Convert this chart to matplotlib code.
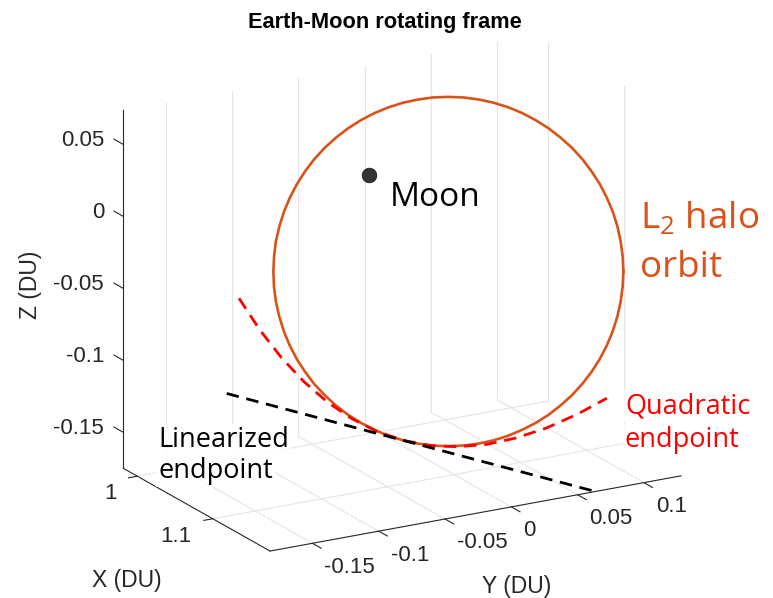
import matplotlib
matplotlib.use("Agg")
import numpy as np
import matplotlib.pyplot as plt
from mpl_toolkits.mplot3d import proj3d

W, H = 773, 598

# axis limits (DU), MATLAB "axis tight" box
x_lim = (0.9814, 1.176)
y_lim = (-0.182, 0.128)
z_lim = (-0.175, 0.0736)

x_ticks = [1.0, 1.1]
y_ticks = [-0.15, -0.1, -0.05, 0.0, 0.05, 0.1]
z_ticks = [-0.15, -0.1, -0.05, 0.0, 0.05]
x_ticklabels = ['1', '1.1']
y_ticklabels = ['-0.15', '-0.1', '-0.05', '0', '0.05', '0.1']
z_ticklabels = ['-0.15', '-0.1', '-0.05', '0', '0.05']

# Moon position
moon_x, moon_y, moon_z = 0.98785, 0.0, 0.0

# L2 halo orbit
orbit_x = [1.1104, 1.1076, 1.1047, 1.1018, 1.0989, 1.0961, 1.0933, 1.0906, 1.0881, 1.0856,
           1.0833, 1.0812, 1.0792, 1.0774, 1.0759, 1.0745, 1.0734, 1.0725, 1.0719, 1.0715,
           1.0713, 1.0714, 1.0718, 1.0724, 1.0732, 1.0743, 1.0757, 1.0772, 1.0789, 1.0809,
           1.0830, 1.0853, 1.0877, 1.0903, 1.0929, 1.0957, 1.0985, 1.1014, 1.1042, 1.1071,
           1.1100, 1.1128, 1.1156, 1.1183, 1.1208, 1.1233, 1.1256, 1.1277, 1.1297, 1.1315,
           1.1330, 1.1344, 1.1355, 1.1364, 1.1370, 1.1374, 1.1376, 1.1375, 1.1371, 1.1365,
           1.1357, 1.1346, 1.1332, 1.1317, 1.1300, 1.1280, 1.1259, 1.1236, 1.1212, 1.1186,
           1.1160, 1.1132]
orbit_y = [0.1218, 0.1229, 0.1230, 0.1222, 0.1204, 0.1175, 0.1138, 0.1091, 0.1036, 0.0972,
           0.0900, 0.0821, 0.0735, 0.0643, 0.0546, 0.0444, 0.0338, 0.0228, 0.0117, 0.0004,
           -0.0109, -0.0222, -0.0334, -0.0444, -0.0551, -0.0654, -0.0753, -0.0847, -0.0934, -0.1015,
           -0.1089, -0.1155, -0.1213, -0.1262, -0.1303, -0.1333, -0.1354, -0.1366, -0.1367, -0.1358,
           -0.1340, -0.1312, -0.1275, -0.1228, -0.1173, -0.1109, -0.1037, -0.0958, -0.0872, -0.0780,
           -0.0682, -0.0580, -0.0474, -0.0365, -0.0254, -0.0141, -0.0028, 0.0086, 0.0197, 0.0307,
           0.0414, 0.0518, 0.0616, 0.0710, 0.0798, 0.0879, 0.0953, 0.1019, 0.1077, 0.1126,
           0.1166, 0.1197]
orbit_z = [-0.0514, -0.0418, -0.0322, -0.0226, -0.0130, -0.0036, 0.0056, 0.0145, 0.0231, 0.0313,
           0.0389, 0.0461, 0.0526, 0.0586, 0.0638, 0.0683, 0.0720, 0.0750, 0.0771, 0.0785,
           0.0789, 0.0786, 0.0774, 0.0754, 0.0725, 0.0689, 0.0645, 0.0594, 0.0536, 0.0471,
           0.0400, 0.0324, 0.0243, 0.0158, 0.0070, -0.0022, -0.0116, -0.0212, -0.0308, -0.0404,
           -0.0500, -0.0594, -0.0686, -0.0775, -0.0861, -0.0942, -0.1019, -0.1091, -0.1156, -0.1215,
           -0.1268, -0.1313, -0.1350, -0.1380, -0.1401, -0.1414, -0.1419, -0.1416, -0.1404, -0.1383,
           -0.1355, -0.1319, -0.1275, -0.1224, -0.1165, -0.1101, -0.1030, -0.0954, -0.0873, -0.0788,
           -0.0699, -0.0608]

# linearized (straight) extrapolation
lin_x = [1.1196, 1.1505]
lin_y = [-0.1826, 0.0777]
lin_z = [-0.0821, -0.1849]

# quadratic extrapolation
quad_x = [1.1023, 1.1089, 1.1148, 1.1201, 1.1247, 1.1286, 1.1318, 1.1344,
          1.1363, 1.1375, 1.1380, 1.1378, 1.1370, 1.1355, 1.1335]
quad_y = [-0.1635, -0.1515, -0.1385, -0.1245, -0.1094, -0.0933, -0.0762, -0.0580,
          -0.0388, -0.0186, 0.0027, 0.0250, 0.0483, 0.0727, 0.0962]
quad_z = [-0.0243, -0.0464, -0.0662, -0.0837, -0.0990, -0.1120, -0.1228, -0.1313,
          -0.1375, -0.1415, -0.1433, -0.1427, -0.1400, -0.1349, -0.1283]

ORANGE = '#D95319'
AXC = '#262626'
GRIDC = '#e4e4e4'

plt.rcParams['font.family'] = ['Liberation Sans', 'DejaVu Sans']
plt.rcParams['mathtext.fontset'] = 'custom'
plt.rcParams['mathtext.rm'] = 'Open Sans'
plt.rcParams['mathtext.it'] = 'Open Sans:italic'

fig = plt.figure(figsize=(W / 100, H / 100), dpi=100)
ax = fig.add_axes([0.1, 0.0, H / W, 1.0], projection='3d', proj_type='ortho',
                  computed_zorder=False)
ax.view_init(elev=18.74, azim=-29.67)
ax.set_box_aspect((296.5, 473.1, 378.0))
ax.set_xlim(*x_lim)
ax.set_ylim(*y_lim)
ax.set_zlim(*z_lim)
ax.set_axis_off()

x0, x1 = x_lim
y0, y1 = y_lim
z0, z1 = z_lim

# grid on the back walls and the floor (no z grid, like the original)
for yt in y_ticks:
    ax.plot([x0, x0], [yt, yt], [z0, z1], color=GRIDC, lw=0.8, zorder=1)
    ax.plot([x0, x1], [yt, yt], [z0, z0], color=GRIDC, lw=0.8, zorder=1)
for xt in x_ticks:
    ax.plot([xt, xt], [y1, y1], [z0, z1], color=GRIDC, lw=0.8, zorder=1)
    ax.plot([xt, xt], [y0, y1], [z0, z0], color=GRIDC, lw=0.8, zorder=1)

# axis lines and tick marks
ax.plot([x0, x0], [y0, y0], [z0, z1], color=AXC, lw=0.8, zorder=2)
ax.plot([x0, x1], [y0, y0], [z0, z0], color=AXC, lw=0.8, zorder=2)
ax.plot([x1, x1], [y0, y1], [z0, z0], color=AXC, lw=0.8, zorder=2)
for zt in z_ticks:
    ax.plot([x0, x0 - 0.0124], [y0, y0], [zt, zt], color=AXC, lw=0.8, zorder=2)
for xt in x_ticks:
    ax.plot([xt, xt], [y0, y0 - 0.0067], [z0, z0], color=AXC, lw=0.8, zorder=2)
for yt in y_ticks:
    ax.plot([x1, x1 + 0.0115], [yt, yt], [z0, z0], color=AXC, lw=0.8, zorder=2)

# data
ax.plot(np.r_[orbit_x, orbit_x[:1]], np.r_[orbit_y, orbit_y[:1]], np.r_[orbit_z, orbit_z[:1]],
        color=ORANGE, lw=1.9, zorder=3)
ax.plot(quad_x, quad_y, quad_z, color='#FF0000', lw=2.0, ls=(0, (4.5, 2.8)), zorder=4)
ax.plot(lin_x, lin_y, lin_z, color='black', lw=2.0, ls=(0, (4.5, 2.8)), zorder=5)
ax.scatter([moon_x], [moon_y], [moon_z], s=110, color='#333333', edgecolors='#1a1a1a',
           linewidths=0.6, depthshade=False, zorder=6)

# fit the projected box onto the original pixel layout
fig.canvas.draw()


def to_px(x, y, z):
    xs, ys, _ = proj3d.proj_transform(x, y, z, ax.get_proj())
    return ax.transData.transform((xs, ys))


pa = to_px(x0, y0, z0)
pb = to_px(x1, y1, z0)
bb = ax.bbox
scale = (681.0 - 123.3) / (pb[0] - pa[0])
fa = ((pa[0] - bb.x0) / bb.width, (pa[1] - bb.y0) / bb.height)
new_w = bb.width * scale
nx0 = 123.3 - fa[0] * new_w
ny0 = (H - 468.3) - fa[1] * new_w
ax.set_position([nx0 / W, ny0 / H, new_w / W, new_w / H])
fig.canvas.draw()


def label_at(x, y, z, s, **kw):
    p = to_px(x, y, z)
    fig.text(p[0] / W, p[1] / H, s, **kw)


# tick labels, placed next to the projected tick marks
tick_fs = 16
for zt, lab in zip(z_ticks, z_ticklabels):
    label_at(x0 - 0.0124, y0 - 0.0075, zt, lab, ha='right', va='center',
             fontsize=tick_fs, color=AXC)
for xt, lab in zip(x_ticks, x_ticklabels):
    label_at(xt, y0 - 0.0158, z0 - 0.0095, lab, ha='right', va='center',
             fontsize=tick_fs, color=AXC)
for yt, lab in zip(y_ticks, y_ticklabels):
    label_at(x1 + 0.0159, yt, z0 - 0.0119, lab, ha='left', va='center',
             fontsize=tick_fs, color=AXC)


def fxy(u, v):
    return u / W, 1 - v / H


# title and axis labels
fig.text(*fxy(385, 28), 'Earth-Moon rotating frame', ha='center', va='baseline',
         fontsize=15.7, fontweight='bold', color='black')
fig.text(*fxy(31, 285), 'Z (DU)', ha='center', va='center', rotation=90,
         fontsize=16.5, color=AXC)
fig.text(*fxy(127, 581), 'X (DU)', ha='center', va='center', fontsize=16.5, color=AXC)
fig.text(*fxy(517, 586), 'Y (DU)', ha='center', va='center', fontsize=16.5, color=AXC)

# annotations
ann = dict(family='Open Sans')
fig.text(*fxy(390, 206), 'Moon', ha='left', va='baseline', fontsize=24, color='black', **ann)
fig.text(*fxy(640, 228), r'L$_\mathrm{2}$ halo', ha='left', va='baseline', fontsize=26.5,
         color=ORANGE, **ann)
fig.text(*fxy(640, 277), 'orbit', ha='left', va='baseline', fontsize=26.5, color=ORANGE, **ann)
box = dict(facecolor='white', edgecolor='none', alpha=0.85, pad=1.5)
fig.text(*fxy(158, 447), 'Linearized', ha='left', va='baseline', fontsize=19.5,
         color='black', bbox=box, **ann)
fig.text(*fxy(158, 478), 'endpoint', ha='left', va='baseline', fontsize=19.5,
         color='black', bbox=box, **ann)
fig.text(*fxy(625, 413), 'Quadratic', ha='left', va='baseline', fontsize=19.5,
         color='#FF0000', bbox=box, **ann)
fig.text(*fxy(625, 447), 'endpoint', ha='left', va='baseline', fontsize=19.5,
         color='#FF0000', bbox=box, **ann)

fig.savefig('out.png', dpi=100)
